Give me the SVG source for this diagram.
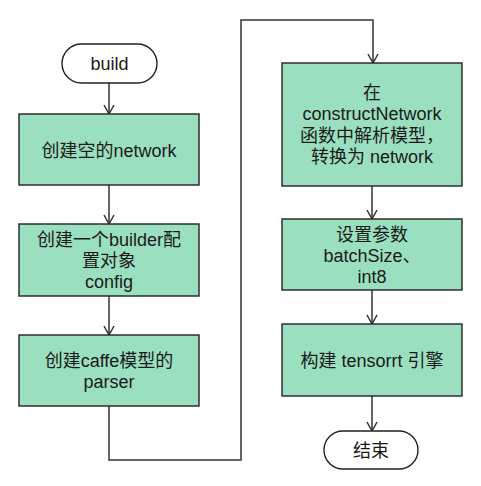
<svg xmlns="http://www.w3.org/2000/svg" width="481" height="486" viewBox="0 0 481 486">
<style>
.box{fill:#9ADFC0;stroke:#222;stroke-width:1.4}
.term{fill:#fff;stroke:#222;stroke-width:1.4}
.t{font-family:"Liberation Sans","Noto Sans CJK SC",sans-serif;font-size:18px;fill:#1a1a1a;text-anchor:middle}
.c{fill:none;stroke:#333;stroke-width:1.5}
</style>
<defs>
<marker id="arr" markerUnits="userSpaceOnUse" markerWidth="12" markerHeight="12" viewBox="0 0 12 12" refX="10" refY="6" orient="auto">
<path d="M1,1 L10,6 L1,11" fill="none" stroke="#333" stroke-width="1.5"/>
</marker>
</defs>
<rect width="481" height="486" fill="#fff"/>
<g id="connectors">
<line class="c" x1="109" y1="83" x2="109" y2="114" marker-end="url(#arr)"/>
<line class="c" x1="109" y1="185" x2="109" y2="224" marker-end="url(#arr)"/>
<line class="c" x1="109" y1="296" x2="109" y2="335" marker-end="url(#arr)"/>
<polyline class="c" points="109,406 109,460 241,460 241,20 373,20 373,63" marker-end="url(#arr)"/>
<line class="c" x1="372" y1="186" x2="372" y2="219" marker-end="url(#arr)"/>
<line class="c" x1="372" y1="290" x2="372" y2="324" marker-end="url(#arr)"/>
<line class="c" x1="372" y1="396" x2="372" y2="431" marker-end="url(#arr)"/>
</g>
<g id="build">
<rect class="term" x="62" y="44" width="95" height="39" rx="19.5"/>
<text class="t" x="109.5" y="70">build</text>
</g>
<g id="n1">
<rect class="box" x="19" y="114" width="180" height="71"/>
<text class="t" x="109" y="156.5">创建空的network</text>
</g>
<g id="n2">
<rect class="box" x="19" y="224" width="180" height="72"/>
<text class="t" x="109" y="245.5">创建一个builder配</text>
<text class="t" x="109" y="266.5">置对象</text>
<text class="t" x="109" y="287.5">config</text>
</g>
<g id="n3">
<rect class="box" x="19" y="335" width="180" height="71"/>
<text class="t" x="109" y="366.5">创建caffe模型的</text>
<text class="t" x="109" y="387.5">parser</text>
</g>
<g id="n4">
<rect class="box" x="282" y="63" width="180" height="123"/>
<text class="t" x="372" y="98.5">在</text>
<text class="t" x="372" y="120">constructNetwork</text>
<text class="t" x="372" y="141.5">函数中解析模型，</text>
<text class="t" x="372" y="163">转换为 network</text>
</g>
<g id="n5">
<rect class="box" x="282" y="219" width="180" height="71"/>
<text class="t" x="372" y="240.5">设置参数</text>
<text class="t" x="372" y="261.5">batchSize、</text>
<text class="t" x="372" y="282.5">int8</text>
</g>
<g id="n6">
<rect class="box" x="282" y="324" width="180" height="72"/>
<text class="t" x="372" y="366.5">构建 tensorrt 引擎</text>
</g>
<g id="end">
<rect class="term" x="324" y="431" width="94" height="38" rx="19"/>
<text class="t" x="371" y="456.5">结束</text>
</g>
</svg>
